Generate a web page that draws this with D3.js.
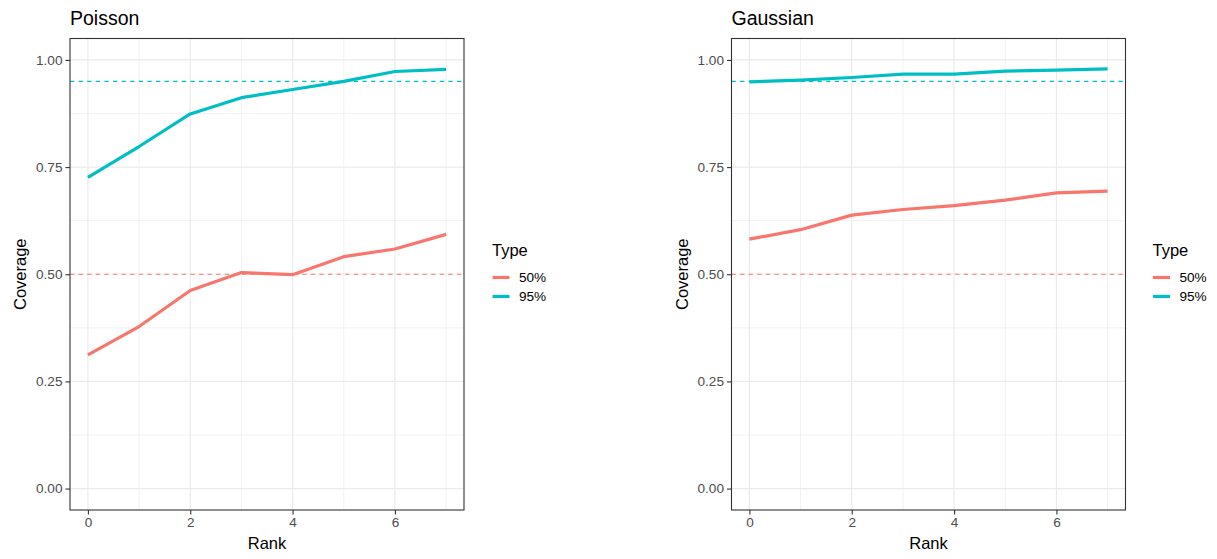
<!DOCTYPE html>
<html>
<head>
<meta charset="utf-8">
<script src="https://cdn.jsdelivr.net/npm/d3@7"></script>
<style>
  html, body { margin: 0; padding: 0; background: #fff; }
  svg { display: block; font-family: "Liberation Sans", Arial, Helvetica, sans-serif; }
</style>
</head>
<body>
<svg id="chart" width="1217" height="559"></svg>
<script>
// ---- data ----
const ranks = [0, 1, 2, 3, 4, 5, 6, 7];
const types = ["50%", "95%"];
const targets = [0.50, 0.95];
const poisson50 = [0.312, 0.378, 0.462, 0.504, 0.499, 0.541, 0.559, 0.593];
const poisson95 = [0.726, 0.798, 0.874, 0.912, 0.931, 0.950, 0.973, 0.978];
const gaussian50 = [0.582, 0.604, 0.638, 0.651, 0.660, 0.673, 0.690, 0.694];
const gaussian95 = [0.949, 0.953, 0.959, 0.967, 0.967, 0.974, 0.976, 0.979];
const yTicks = [0, 0.25, 0.5, 0.75, 1.0];
const xTicks = [0, 2, 4, 6];
const colors = ["#F8766D", "#00BFC4"];

const panels = [
  { title: "Poisson", series: [poisson50, poisson95], x0: 70, x1: 464, legendX: 492, covX: 26 },
  { title: "Gaussian", series: [gaussian50, gaussian95], x0: 731.5, x1: 1125.5, legendX: 1152.5, covX: 687.5 }
];

const svg = d3.select("#chart");
const y0 = 38.5, y1 = 510;

panels.forEach(p => {
  const x = d3.scaleLinear().domain([-0.35, 7.35]).range([p.x0, p.x1]);
  const y = d3.scaleLinear().domain([-0.05, 1.05]).range([y1, y0]);
  const g = svg.append("g");

  // grid minor
  const yMinor = [0.125, 0.375, 0.625, 0.875];
  g.selectAll(".ymin").data(yMinor).enter().append("line")
    .attr("x1", p.x0).attr("x2", p.x1)
    .attr("y1", d => y(d)).attr("y2", d => y(d))
    .attr("stroke", "#EBEBEB").attr("stroke-width", 0.7);
  const xMinor = [1, 3, 5, 7];
  g.selectAll(".xmin").data(xMinor).enter().append("line")
    .attr("y1", y0).attr("y2", y1)
    .attr("x1", d => x(d)).attr("x2", d => x(d))
    .attr("stroke", "#EBEBEB").attr("stroke-width", 0.7);
  // grid major
  g.selectAll(".ymaj").data(yTicks).enter().append("line")
    .attr("x1", p.x0).attr("x2", p.x1)
    .attr("y1", d => y(d)).attr("y2", d => y(d))
    .attr("stroke", "#EBEBEB").attr("stroke-width", 1.2);
  g.selectAll(".xmaj").data(xTicks).enter().append("line")
    .attr("y1", y0).attr("y2", y1)
    .attr("x1", d => x(d)).attr("x2", d => x(d))
    .attr("stroke", "#EBEBEB").attr("stroke-width", 1.2);

  // target dashed lines
  targets.forEach((t, i) => {
    g.append("line")
      .attr("x1", p.x0).attr("x2", p.x1)
      .attr("y1", y(t)).attr("y2", y(t))
      .attr("stroke", colors[i]).attr("stroke-width", 1.1)
      .attr("stroke-dasharray", "4.3,4.3");
  });

  // lines
  const line = d3.line().x((d, i) => x(ranks[i])).y(d => y(d));
  p.series.forEach((s, i) => {
    g.append("path").datum(s)
      .attr("d", line)
      .attr("fill", "none")
      .attr("stroke", colors[i])
      .attr("stroke-width", 3.2)
      .attr("stroke-linejoin", "round");
  });

  // border
  g.append("rect")
    .attr("x", p.x0).attr("y", y0)
    .attr("width", p.x1 - p.x0).attr("height", y1 - y0)
    .attr("fill", "none").attr("stroke", "#333333").attr("stroke-width", 1.1);

  // axes
  const ax = g.append("g").attr("transform", `translate(0,${y1})`)
    .call(d3.axisBottom(x).tickValues(xTicks).tickFormat(d3.format("d")).tickSize(4.5).tickPadding(2.5));
  const ay = g.append("g").attr("transform", `translate(${p.x0},0)`)
    .call(d3.axisLeft(y).tickValues(yTicks).tickFormat(d3.format(".2f")).tickSize(4.5).tickPadding(3));
  [ax, ay].forEach(a => {
    a.select(".domain").remove();
    a.selectAll(".tick line").attr("stroke", "#333333").attr("stroke-width", 1.1);
    a.selectAll(".tick text").attr("fill", "#4D4D4D")
      .style("font-size", "13.6px").style("font-family", "'Liberation Sans', Arial, sans-serif");
  });

  // titles
  g.append("text").attr("x", p.x0).attr("y", 25)
    .style("font-size", "19.5px").attr("fill", "#000").text(p.title);
  g.append("text").attr("x", (p.x0 + p.x1) / 2).attr("y", 549.3)
    .attr("text-anchor", "middle").style("font-size", "16.5px").attr("fill", "#000").text("Rank");
  g.append("text")
    .attr("transform", `translate(${p.covX},${(y0 + y1) / 2}) rotate(-90)`)
    .attr("text-anchor", "middle").style("font-size", "16.5px").attr("fill", "#000").text("Coverage");

  // legend
  const lg = g.append("g");
  lg.append("text").attr("x", p.legendX).attr("y", 256)
    .style("font-size", "16.5px").attr("fill", "#000").text("Type");
  types.forEach((t, i) => {
    const ky = 277.5 + i * 19;
    lg.append("line")
      .attr("x1", p.legendX + 0.5).attr("x2", p.legendX + 17.5)
      .attr("y1", ky).attr("y2", ky)
      .attr("stroke", colors[i]).attr("stroke-width", 3.2);
    lg.append("text").attr("x", p.legendX + 27).attr("y", ky + 4.7)
      .style("font-size", "13.6px").attr("fill", "#000").text(t);
  });
});
</script>
</body>
</html>
